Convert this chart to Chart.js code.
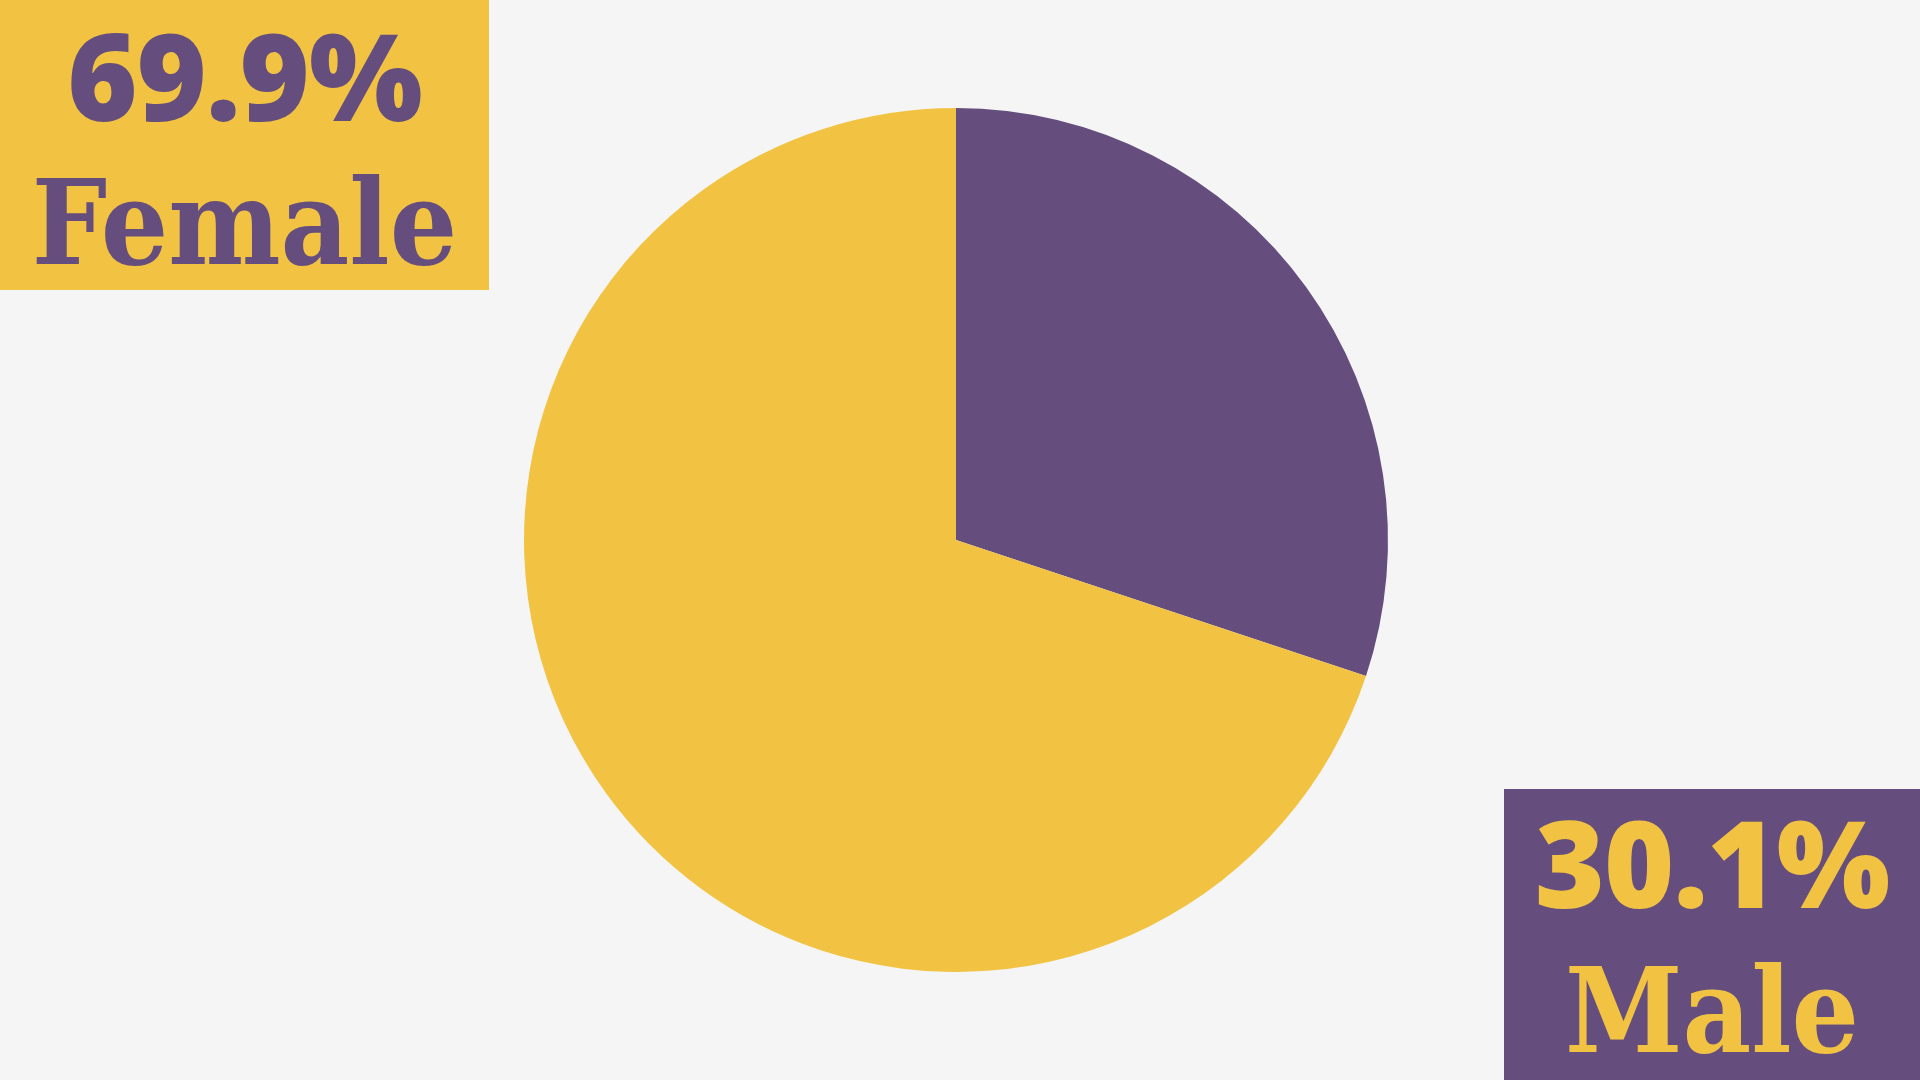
<!DOCTYPE html>
<html>
<head>
<meta charset="utf-8">
<script src="https://cdn.jsdelivr.net/npm/chart.js@4"></script>
<style>
  html, body { margin: 0; padding: 0; background: #f5f5f5; }
  #wrap { position: relative; width: 1920px; height: 1080px; }
  .box { position: absolute; }
  .box div { position: absolute; left: 0; width: 100%; text-align: center;
             font-family: "DejaVu Serif Condensed", "DejaVu Serif", serif; font-weight: bold;
             line-height: 1; white-space: nowrap; }
  .box div.num { font-family: "Open Sans", sans-serif; font-weight: 800; letter-spacing: -1px; }
</style>
</head>
<body>
<div id="wrap">
  <canvas id="pieChart"></canvas>
  <div class="box" id="femaleBox" style="left:0;top:0;width:489px;height:290px;background:#f2c343;color:#654e7d;">
    <div class="num" style="top:15px;font-size:120px;">69.9%</div>
    <div style="top:164px;font-size:118px;">Female</div>
  </div>
  <div class="box" id="maleBox" style="left:1504px;top:789px;width:416px;height:291px;background:#654e7d;color:#f2c343;">
    <div class="num" style="top:13px;font-size:120px;">30.1%</div>
    <div style="top:163px;font-size:118px;">Male</div>
  </div>
</div>
<script>
const labels = ['Male', 'Female'];
const shares = [30.1, 69.9];
const sliceColors = ['#654e7d', '#f2c343'];

const canvas = document.getElementById('pieChart');
canvas.width = 1920;
canvas.height = 1080;

const ctx = canvas.getContext('2d');
const pieChart = new Chart(ctx, {
    type: 'pie',
    data: {
        labels: labels,
        datasets: [{
            data: shares,
            backgroundColor: sliceColors,
            borderWidth: 0
        }]
    },
    options: {
        responsive: false,
        animation: false,
        layout: {
            padding: { top: 108, bottom: 108, left: 100, right: 108 }
        },
        plugins: {
            legend: { display: false },
            tooltip: { enabled: false }
        }
    }
});
</script>
</body>
</html>
